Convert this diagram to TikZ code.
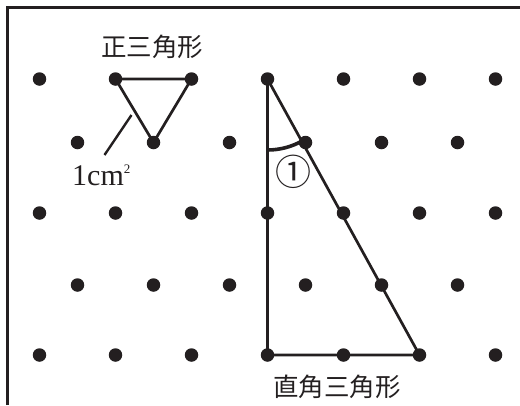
\documentclass[tikz,border=0pt]{standalone}
\usepackage{fontspec}
\setmainfont{Liberation Serif}
\newfontfamily\cjk{Noto Sans CJK JP}
\definecolor{ink}{HTML}{231F20}
\begin{document}
\begin{tikzpicture}[x=1pt,y=-1pt,
  dot/.style={circle,fill=ink,inner sep=0pt,minimum size=13.5pt},
  edge/.style={draw=ink,line width=2.7pt},
  frameline/.style={draw=ink,line width=3pt},
  cjklabel/.style={font=\cjk\fontsize{25.5}{27}\selectfont,text=ink,inner sep=0pt},
]
\useasboundingbox (0,0) rectangle (520,405);
% frame (top and left edges only)
\draw[frameline] (7,405) -- (7,7) -- (520,7);
% lattice dots
\foreach \r/\y in {1/79,3/213,5/355}
  \foreach \c in {1,...,7}
    \node[dot] (d\r-\c) at ({39.5+76*(\c-1)},\y) {};
\foreach \r/\y in {2/142.5,4/285}
  \foreach \c in {1,...,6}
    \node[dot] (d\r-\c) at ({77.5+76*(\c-1)},\y) {};
% equilateral triangle
\draw[edge,line join=miter] (d1-2.center) -- (d1-3.center) -- (d2-2.center) -- cycle;
% right triangle
\draw[edge,line join=miter] (d1-4.center) -- (d5-4.center) -- (d5-6.center) -- cycle;
% angle mark
\draw[ink,line width=3.6pt] ([shift={(90:71)}]d1-4.center) arc[start angle=90,end angle=60,radius=71];
% leader line
\coordinate (l1) at (104.5,155);
\coordinate (l2) at (131.5,115);
\draw[ink,line width=2.4pt] (l1) -- (l2);
% labels
\node[cjklabel] (t1) at (152,47) {正三角形};
\node[cjklabel] (t2) at (337,387) {直角三角形};
\node[anchor=base west,inner sep=0pt,text=ink,font=\fontsize{30}{32}\selectfont] (area) at (72,185)
  {1cm\raisebox{12pt}{\fontsize{13}{13}\selectfont 2}};
\node[inner sep=0pt,text=ink,font=\cjk\fontsize{36}{38}\selectfont] (ang) at (293,172) {①};
\end{tikzpicture}
\end{document}
